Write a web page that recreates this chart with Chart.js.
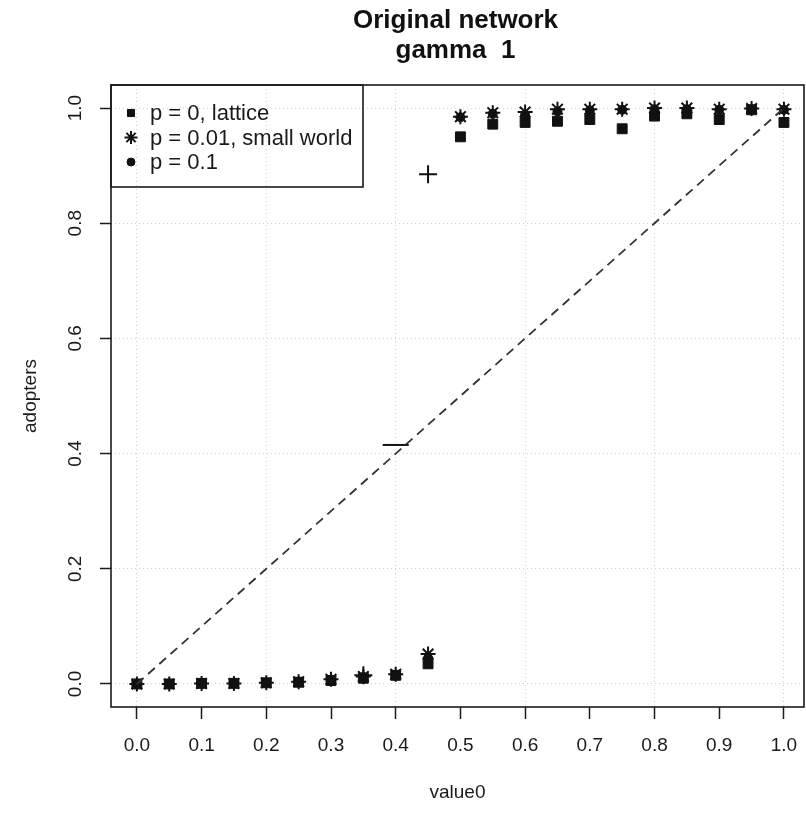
<!DOCTYPE html>
<html>
<head>
<meta charset="utf-8">
<script src="https://cdn.jsdelivr.net/npm/chart.js@4"></script>
<style>
  html, body { margin: 0; padding: 0; background: #fff; overflow: hidden; }
</style>
</head>
<body>
<canvas id="grafico" width="806" height="813"></canvas>
<script>
// valores de value0 e fração de adotantes por rede
const valor0 = [0.00, 0.05, 0.10, 0.15, 0.20, 0.25, 0.30, 0.35, 0.40, 0.45, 0.50,
                0.55, 0.60, 0.65, 0.70, 0.75, 0.80, 0.85, 0.90, 0.95, 1.00];
const redeLattice = [0, 0, 0.001, 0.001, 0.002, 0.003, 0.006, 0.010, 0.015, 0.035, 0.950,
                     0.972, 0.975, 0.977, 0.980, 0.964, 0.986, 0.990, 0.980, 0.997, 0.975];
const redeSmallWorld = [0, 0, 0.001, 0.001, 0.002, 0.004, 0.008, 0.013, 0.017, 0.052, 0.985,
                        0.992, 0.993, 0.998, 0.998, 0.998, 1.000, 1.000, 0.998, 0.999, 0.998];
const redeP01 = [0, 0, 0.001, 0.001, 0.002, 0.004, 0.007, 0.012, 0.016, 0.045, 0.984,
                 0.990, 0.988, 0.994, 0.996, 0.997, 0.998, 0.998, 0.997, 0.998, 0.997];
const redeCruz = [null, null, null, null, null, null, null, 0.015, 0.415, 0.885, null,
                  null, null, null, null, null, null, null, null, null, null];
const diagX = [0, 1];
const diagY = [0, 1];

const rotulosSeries = ['p = 0, lattice', 'p = 0.01, small world', 'p = 0.1'];
const ticksX = [0, 0.1, 0.2, 0.3, 0.4, 0.5, 0.6, 0.7, 0.8, 0.9, 1.0];
const ticksY = [0, 0.2, 0.4, 0.6, 0.8, 1.0];
const titulo = ['Original network', 'gamma  1'];

const FONTE = "'Liberation Sans', Arial, sans-serif";

function pontos(ys) {
    return valor0.map((x, i) => ({ x: x, y: ys[i] })).filter(p => p.y !== null);
}

// estilos dos marcadores (mesmos usados na legenda)
const estilos = [
    { pointStyle: 'rect', radius: 7, legendaRaio: 5, borderWidth: 1 },
    { pointStyle: 'star', radius: 7.5, legendaRaio: 6.5, borderWidth: 2 },
    { pointStyle: 'circle', radius: 4.5, legendaRaio: 4, borderWidth: 1 }
];

function serie(label, ys, est, ordem) {
    return {
        label: label,
        data: pontos(ys),
        showLine: false,
        pointStyle: est.pointStyle,
        pointRadius: est.radius,
        pointBorderWidth: est.borderWidth,
        pointBackgroundColor: '#111',
        pointBorderColor: '#111',
        order: ordem
    };
}

// moldura, título, legenda e rótulos do eixo y
const moldura = {
    id: 'moldura',
    afterDraw(chart) {
        const ctx = chart.ctx;
        const area = chart.chartArea;
        ctx.save();

        // caixa do gráfico
        ctx.strokeStyle = '#1a1a1a';
        ctx.lineWidth = 1.6;
        ctx.strokeRect(area.left, area.top, area.right - area.left, area.bottom - area.top);

        // título em duas linhas
        ctx.fillStyle = '#111';
        ctx.font = 'bold 26px ' + FONTE;
        ctx.textAlign = 'center';
        ctx.textBaseline = 'alphabetic';
        const cx = (area.left + area.right) / 2 - 2;
        ctx.fillText(titulo[0], cx, 28);
        ctx.fillText(titulo[1], cx, 58);

        // rótulos do eixo y, girados
        const sy = chart.scales.y;
        ctx.font = '19px ' + FONTE;
        ctx.fillStyle = '#1a1a1a';
        sy.ticks.forEach(t => {
            ctx.save();
            ctx.translate(76, sy.getPixelForValue(t.value));
            ctx.rotate(-Math.PI / 2);
            ctx.textAlign = 'center';
            ctx.textBaseline = 'middle';
            ctx.fillText(t.value.toFixed(1), 0, 0);
            ctx.restore();
        });

        // legenda no canto superior esquerdo
        const lx = area.left, ly = area.top;
        ctx.strokeStyle = '#1a1a1a';
        ctx.lineWidth = 1.6;
        ctx.strokeRect(lx, ly, 252, 102);
        ctx.font = '22px ' + FONTE;
        ctx.textAlign = 'left';
        ctx.textBaseline = 'middle';
        rotulosSeries.forEach((txt, i) => {
            const yy = ly + 28 + i * 24.5;
            const est = estilos[i];
            ctx.fillStyle = '#111';
            ctx.strokeStyle = '#111';
            ctx.lineWidth = est.borderWidth;
            Chart.helpers.drawPoint(ctx, {
                pointStyle: est.pointStyle,
                radius: est.legendaRaio,
                borderWidth: est.borderWidth,
                rotation: 0
            }, lx + 20, yy);
            ctx.fillStyle = '#1a1a1a';
            ctx.fillText(txt, lx + 39, yy + 1);
        });
        ctx.restore();
    }
};

const gradeCinza = '#d3d3d3';

new Chart(document.getElementById('grafico').getContext('2d'), {
    type: 'scatter',
    data: {
        datasets: [
            {
                label: 'diagonal',
                type: 'line',
                data: diagX.map((x, i) => ({ x: x, y: diagY[i] })),
                borderColor: '#333',
                borderWidth: 1.8,
                borderDash: [9, 6],
                pointRadius: 0,
                fill: false,
                order: 0
            },
            serie(rotulosSeries[2], redeP01, estilos[2], 1),
            serie(rotulosSeries[1], redeSmallWorld, estilos[1], 2),
            serie(rotulosSeries[0], redeLattice, estilos[0], 3),
            {
                label: 'cruz',
                data: pontos(redeCruz),
                showLine: false,
                // a marca do meio sai só como traço horizontal
                pointStyle: ['cross', 'line', 'cross'],
                pointRadius: [9, 13, 9],
                pointBorderWidth: 2,
                pointBorderColor: '#111',
                order: 4
            }
        ]
    },
    plugins: [moldura],
    options: {
        responsive: false,
        animation: false,
        layout: { autoPadding: false, padding: { top: 85, right: 2, left: 0, bottom: 0 } },
        plugins: {
            legend: { display: false },
            tooltip: { enabled: false },
            title: { display: false }
        },
        scales: {
            x: {
                type: 'linear',
                min: -0.04,
                max: 1.031,
                afterBuildTicks(scale) {
                    scale.ticks = ticksX.map(v => ({ value: v }));
                },
                afterFit(scale) {
                    scale.height = 106;
                    scale.paddingLeft = 0;
                    scale.paddingRight = 0;
                },
                ticks: {
                    padding: 15,
                    color: '#1a1a1a',
                    font: { family: FONTE, size: 19 },
                    callback: v => Number(v).toFixed(1)
                },
                grid: {
                    // linhas de grade só a cada 0.2
                    color: c => (c.tick && Math.round(c.tick.value * 10) % 2 === 0) ? gradeCinza : 'rgba(0,0,0,0)',
                    lineWidth: 1,
                    tickColor: '#1a1a1a',
                    tickLength: 12,
                    tickWidth: 1.5
                },
                border: { display: false, dash: [1, 3] },
                title: {
                    display: true,
                    text: 'value0',
                    color: '#1a1a1a',
                    font: { family: FONTE, size: 19 },
                    padding: { top: 0, bottom: 9 }
                }
            },
            y: {
                type: 'linear',
                min: -0.04,
                max: 1.04,
                afterBuildTicks(scale) {
                    scale.ticks = ticksY.map(v => ({ value: v }));
                },
                afterFit(scale) {
                    scale.width = 111;
                    scale.paddingTop = 0;
                    scale.paddingBottom = 0;
                },
                ticks: { display: false },
                grid: {
                    color: gradeCinza,
                    lineWidth: 1,
                    tickColor: '#1a1a1a',
                    tickLength: 11,
                    tickWidth: 1.5
                },
                border: { display: false, dash: [1, 3] },
                title: {
                    display: true,
                    text: 'adopters',
                    color: '#1a1a1a',
                    font: { family: FONTE, size: 19 },
                    padding: { top: 19, bottom: 0 }
                }
            }
        }
    }
});
</script>
</body>
</html>
